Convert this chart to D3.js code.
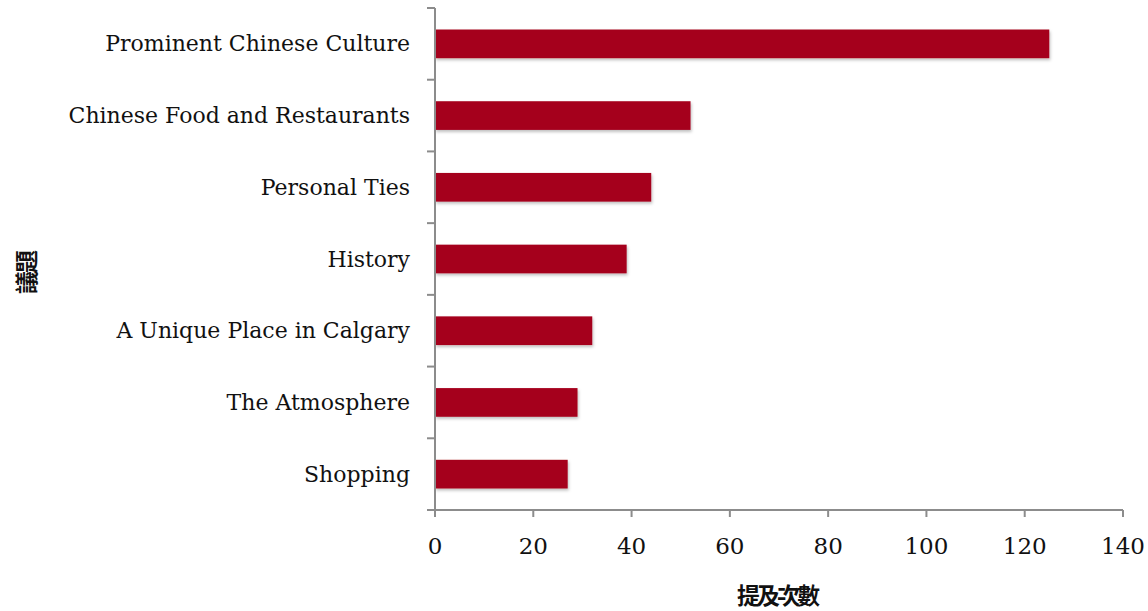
<!DOCTYPE html>
<html><head><meta charset="utf-8">
<script src="https://cdn.jsdelivr.net/npm/d3@7"></script>
<style>body{margin:0;background:#fff;}svg{display:block;}</style>
</head><body>
<svg id="c" width="1148" height="611"></svg>
<script>
const categories = ["Prominent Chinese Culture","Chinese Food and Restaurants","Personal Ties","History","A Unique Place in Calgary","The Atmosphere","Shopping"];
const values = [125, 52, 44, 39, 32, 29, 27];
const xTicks = [0,20,40,60,80,100,120,140];
const xTitle = "提及次數";
const yTitle = "議題";

const svg = d3.select("#c");
const m = {left:435, right:1123, top:8, bottom:510};
const x = d3.scaleLinear().domain([0,140]).range([m.left, m.right]);
const y = d3.scaleBand().domain(categories).range([m.top, m.bottom]).paddingInner(0.6).paddingOuter(0.3);

const defs = svg.append("defs");
const f = defs.append("filter").attr("id","sh").attr("x","-5%").attr("y","-30%").attr("width","110%").attr("height","170%");
f.append("feDropShadow").attr("dx",1).attr("dy",2).attr("stdDeviation",1.5).attr("flood-color","#000").attr("flood-opacity",0.25);

svg.append("g").selectAll("rect").data(values).join("rect")
  .attr("x", x(0)).attr("y",(d,i)=>y(categories[i]))
  .attr("width", d=>x(d)-x(0)).attr("height", y.bandwidth())
  .attr("fill","#A5001C").attr("filter","url(#sh)");

const axisColor = "#8c8c8c";
const font = "'DejaVu Serif', serif";

// y axis
const yb = d3.scaleBand().domain(categories).range([m.top, m.bottom]);
const gy = svg.append("g");
gy.append("line").attr("x1",m.left).attr("x2",m.left).attr("y1",m.top).attr("y2",m.bottom).attr("stroke",axisColor).attr("stroke-width",2);
const yTickPos = categories.map(c=>yb(c)).concat([m.bottom]);
gy.selectAll("line.t").data(yTickPos).join("line").attr("class","t")
  .attr("x1",m.left-8).attr("x2",m.left).attr("y1",d=>d).attr("y2",d=>d).attr("stroke",axisColor).attr("stroke-width",2);
gy.selectAll("text").data(categories).join("text")
  .attr("x", m.left-25).attr("y", c=>yb(c)+yb.bandwidth()/2)
  .attr("text-anchor","end").attr("dominant-baseline","central")
  .attr("font-family",font).attr("font-size",22).attr("fill","#111").text(c=>c);

// x axis
const gx = svg.append("g");
gx.append("line").attr("x1",m.left).attr("x2",m.right).attr("y1",m.bottom).attr("y2",m.bottom).attr("stroke",axisColor).attr("stroke-width",2);
gx.selectAll("line.t").data(xTicks).join("line").attr("class","t")
  .attr("x1",d=>x(d)).attr("x2",d=>x(d)).attr("y1",m.bottom).attr("y2",m.bottom+7).attr("stroke",axisColor).attr("stroke-width",2);
gx.selectAll("text").data(xTicks).join("text")
  .attr("x",d=>x(d)).attr("y",554).attr("text-anchor","middle")
  .attr("font-family",font).attr("font-size",23).attr("fill","#111").text(d=>d);

svg.append("text").attr("x",777).attr("y",604).attr("text-anchor","middle").attr("letter-spacing",-3)
  .attr("font-family","'Noto Sans CJK TC', sans-serif").attr("font-weight","bold").attr("font-size",23).attr("fill","#111").text(xTitle);
svg.append("text").attr("transform","translate(35,273) rotate(-90)").attr("text-anchor","middle").attr("letter-spacing",-2)
  .attr("font-family","'Noto Sans CJK TC', sans-serif").attr("font-weight","bold").attr("font-size",23).attr("fill","#111").text(yTitle);
</script>
</body></html>
